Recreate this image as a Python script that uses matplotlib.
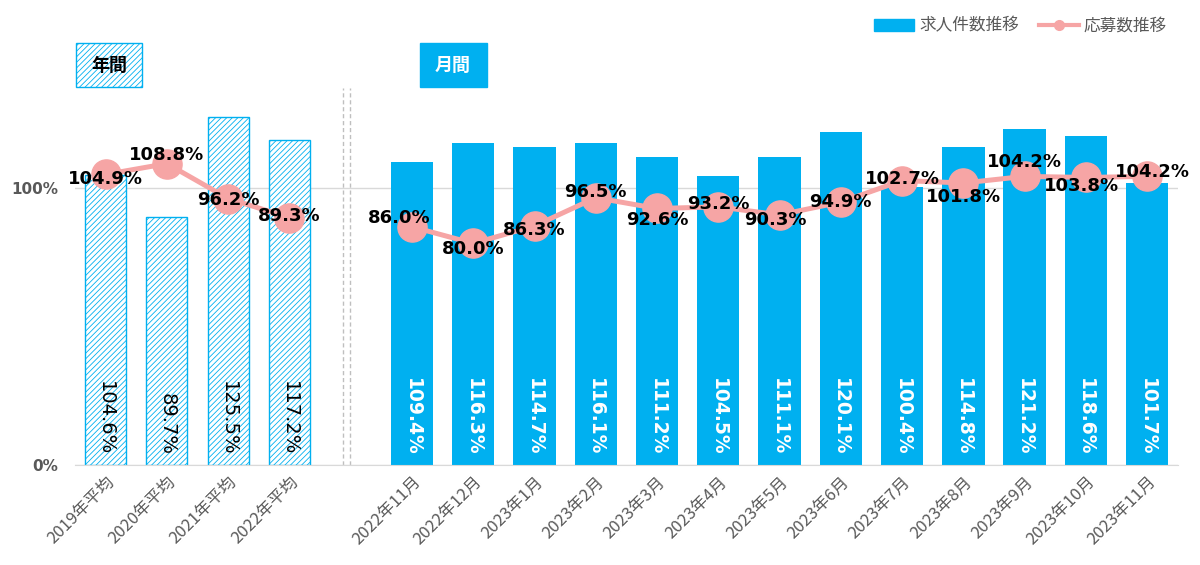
import matplotlib.pyplot as plt
from matplotlib.patches import Rectangle
from matplotlib.lines import Line2D
from matplotlib.patches import Patch

plt.rcParams['font.family'] = ['Noto Sans CJK JP', 'DejaVu Sans']
plt.rcParams['hatch.linewidth'] = 0.6

# annual averages
year_labels = ['2019年平均', '2020年平均', '2021年平均', '2022年平均']
year_jobs = [104.6, 89.7, 125.5, 117.2]
year_apps = [104.9, 108.8, 96.2, 89.3]

# monthly
month_labels = ['2022年11月', '2022年12月', '2023年1月', '2023年2月', '2023年3月',
                '2023年4月', '2023年5月', '2023年6月', '2023年7月', '2023年8月',
                '2023年9月', '2023年10月', '2023年11月']
month_jobs = [109.4, 116.3, 114.7, 116.1, 111.2, 104.5, 111.1, 120.1, 100.4,
              114.8, 121.2, 118.6, 101.7]
month_apps = [86.0, 80.0, 86.3, 96.5, 92.6, 93.2, 90.3, 94.9, 102.7, 101.8,
              104.2, 103.8, 104.2]

blue = '#00B0F0'
pink = '#F6A5A5'
gray = '#595959'

# x positions: annual in slots 0-3, a blank slot, monthly in 5-17
x_year = list(range(len(year_labels)))
x_month = [len(year_labels) + 1 + i for i in range(len(month_labels))]

fig = plt.figure(figsize=(12, 5.65), dpi=100)
ax = fig.add_axes([0.0625, 0.177, 0.919, 0.7354])

# bars
ax.bar(x_year, year_jobs, width=0.67, color='white', edgecolor=blue,
       hatch='//////', linewidth=1, zorder=2)
ax.bar(x_month, month_jobs, width=0.69, color=blue, zorder=2)

# lines
ax.plot(x_year, year_apps, color=pink, lw=3.6, marker='o', ms=21, zorder=3)
ax.plot(x_month, month_apps, color=pink, lw=3.6, marker='o', ms=21, zorder=3)

# bar labels (rotated, near the bottom)
for x, v in zip(x_year, year_jobs):
    ax.annotate(f'{v:.1f}%', xy=(x, 0), xytext=(0, 7), textcoords='offset points',
                rotation=-90, rotation_mode='anchor', ha='right', va='center',
                fontsize=14, color='black', family='DejaVu Sans', zorder=4)
for x, v in zip(x_month, month_jobs):
    ax.annotate(f'{v:.1f}%', xy=(x, 0), xytext=(0, 7), textcoords='offset points',
                rotation=-90, rotation_mode='anchor', ha='right', va='center',
                fontsize=13.5, color='white', fontweight='bold', family='DejaVu Sans', zorder=4)

# line labels
year_off = [(0, -3), (0, 6), (0, -1), (0, 1)]
month_off = [(-9, 6), (0, -4), (0, -3), (0, 4), (0, -8), (0, 2), (-3, -4), (0, 0),
             (0, 1), (0, -10), (0, 10), (-3, -6), (4, 3)]
for x, v, o in zip(x_year, year_apps, year_off):
    ax.annotate(f'{v:.1f}%', xy=(x, v), xytext=o, textcoords='offset points',
                ha='center', va='center', fontsize=13, fontweight='bold',
                family='DejaVu Sans', zorder=5)
for x, v, o in zip(x_month, month_apps, month_off):
    ax.annotate(f'{v:.1f}%', xy=(x, v), xytext=o, textcoords='offset points',
                ha='center', va='center', fontsize=13, fontweight='bold',
                family='DejaVu Sans', zorder=5)

# separator
for sx in [3.88, 3.99]:
    ax.vlines(sx, 0, 136, colors='#BFBFBF', linestyles=(0, (3, 2)), lw=1, zorder=1)

ax.set_xlim(-0.5, 17.5)
ax.set_ylim(0, 150)
ax.set_yticks([0, 100])
ax.set_yticklabels(['0%', '100%'], family='DejaVu Sans', fontweight='bold',
                   color=gray, fontsize=11)
ax.set_xticks(x_year + x_month)
ax.set_xticklabels(year_labels + month_labels, rotation=45, ha='right',
                   rotation_mode='anchor', color=gray, fontsize=12)
ax.tick_params(length=0)
ax.tick_params(axis='x', pad=6)
ax.tick_params(axis='y', pad=12)
ax.grid(axis='y', color='#D9D9D9', lw=1, zorder=0)
for s in ['top', 'right', 'left']:
    ax.spines[s].set_visible(False)
ax.spines['bottom'].set_color('#D9D9D9')

# section boxes
fig.patches.append(Rectangle((76 / 1200, 1 - 87 / 565), 66 / 1200, 44 / 565,
                             transform=fig.transFigure, facecolor='white',
                             edgecolor=blue, hatch='//////', lw=1))
fig.text(109 / 1200, 1 - 65 / 565, '年間', ha='center', va='center',
         fontsize=13, fontweight='bold')
fig.patches.append(Rectangle((420 / 1200, 1 - 87 / 565), 67 / 1200, 44 / 565,
                             transform=fig.transFigure, facecolor=blue,
                             edgecolor=blue, lw=1))
fig.text(453 / 1200, 1 - 65 / 565, '月間', ha='center', va='center',
         fontsize=13, fontweight='bold', color='white')

# legend
handles = [Patch(color=blue, label='求人件数推移'),
           Line2D([], [], color=pink, lw=3, marker='o', ms=7, label='応募数推移')]
leg = fig.legend(handles=handles, loc='upper right', bbox_to_anchor=(0.985, 0.995),
                 ncol=2, frameon=False, fontsize=12, handlelength=2.4,
                 columnspacing=1.2, handletextpad=0.3)
for t in leg.get_texts():
    t.set_color(gray)

fig.savefig('out.png', dpi=100)
